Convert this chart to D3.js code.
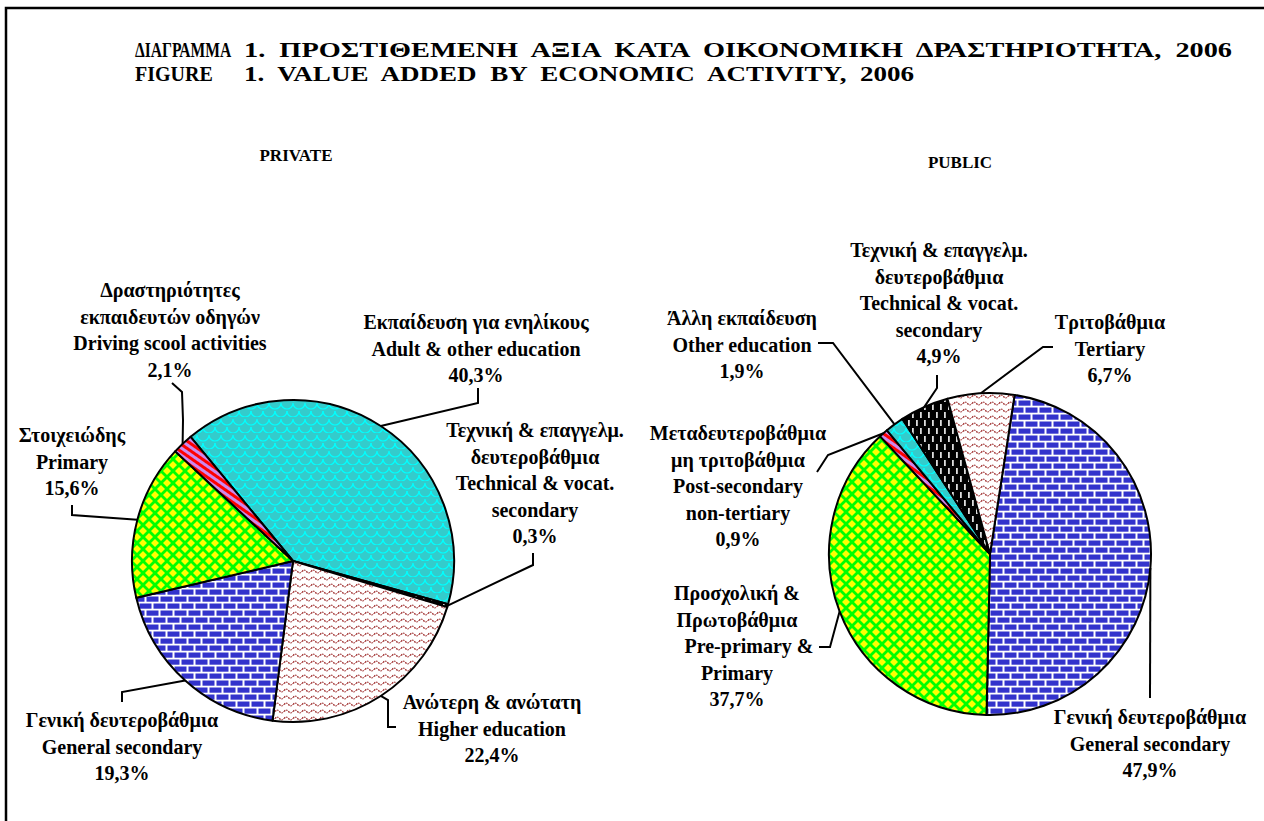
<!DOCTYPE html>
<html>
<head>
<meta charset="utf-8">
<script src="https://cdn.jsdelivr.net/npm/d3@7/dist/d3.min.js"></script>
<style>
body { margin: 0; background: #fff; }
svg text { font-family: "Liberation Serif", "Times New Roman", serif; font-weight: bold; fill: #000; }
</style>
</head>
<body>
<svg id="chart" width="1264" height="821"></svg>
<script>
/*************** dados ***************/
var privateLabels = [
    ['Εκπαίδευση για ενηλίκους', 'Adult & other education'],
    ['Τεχνική & επαγγελμ.', 'δευτεροβάθμια', 'Technical & vocat.', 'secondary'],
    ['Ανώτερη & ανώτατη', 'Higher education'],
    ['Γενική δευτεροβάθμια', 'General secondary'],
    ['Στοιχειώδης', 'Primary'],
    ['Δραστηριότητες', 'εκπαιδευτών οδηγών', 'Driving scool activities']
];
var privateValues = [40.3, 0.3, 22.4, 19.3, 15.6, 2.1];

var publicLabels = [
    ['Γενική δευτεροβάθμια', 'General secondary'],
    ['Προσχολική &', 'Πρωτοβάθμια', 'Pre-primary &', 'Primary'],
    ['Μεταδευτεροβάθμια', 'μη τριτοβάθμια', 'Post-secondary', 'non-tertiary'],
    ['Άλλη εκπαίδευση', 'Other education'],
    ['Τεχνική & επαγγελμ.', 'δευτεροβάθμια', 'Technical & vocat.', 'secondary'],
    ['Τριτοβάθμια', 'Tertiary']
];
var publicValues = [47.9, 37.7, 0.9, 1.9, 4.9, 6.7];

var titleLines = [
    ['ΔΙΑΓΡΑΜΜΑ', '1.  ΠΡΟΣΤΙΘΕΜΕΝΗ  ΑΞΙΑ  ΚΑΤΑ  ΟΙΚΟΝΟΜΙΚΗ  ΔΡΑΣΤΗΡΙΟΤΗΤΑ,  2006'],
    ['FIGURE', '1.  VALUE  ADDED  BY  ECONOMIC  ACTIVITY,  2006']
];
var pieTitles = ['PRIVATE', 'PUBLIC'];

/*************** estilo / layout ***************/
var privateFills = ['scales', 'dashes', 'waves', 'bricks', 'diamonds', 'stripes'];
var publicFills = ['bricks', 'diamonds', 'stripes', 'scales', 'dashes', 'waves'];

var lineH = 26.6;   // distância entre linhas dos rótulos

var privateLayout = {
    cx: 293, cy: 561, r: 161, start: -39.5,
    labels: [
        { x: 476, y: 322, leader: [[478, 388], [478, 403]] },
        { x: 535, y: 430, leader: [[533, 553], [533, 565]] },
        { x: 492, y: 702, leader: [[396, 727], [388, 727], [388, 700]] },
        { x: 122, y: 720, leader: [[122, 702], [122, 692]] },
        { x: 72,  y: 435, leader: [[72, 505], [72, 515]] },
        { x: 170, y: 290, leader: [[172, 383], [182, 392], [183, 420]] }
    ]
};

var publicLayout = {
    cx: 990, cy: 554, r: 161, start: 8.8,
    labels: [
        { x: 1150, y: 717, leader: [[1150, 698]] },
        { x: 737, y: 593, shift: { 2: 12 }, leader: [[819, 647], [830, 647]] },
        { x: 738, y: 433, leader: [[817, 472], [828, 455]] },
        { x: 742, y: 318, leader: [[818, 343], [833, 343]] },
        { x: 939, y: 250, leader: [[937, 375], [937, 388]] },
        { x: 1110, y: 322, leader: [[1053, 347], [1043, 347]] }
    ]
};

var fmt = function (v) { return d3.format('.1f')(v).replace('.', ',') + '%'; };

var svg = d3.select('#chart');

/*************** padrões (hachuras) ***************/
var defs = svg.append('defs');

function pattern(id, w, h, bg, transform) {
    var p = defs.append('pattern').attr('id', id)
        .attr('patternUnits', 'userSpaceOnUse')
        .attr('width', w).attr('height', h);
    if (transform) p.attr('patternTransform', transform);
    p.append('rect').attr('width', w).attr('height', h).attr('fill', bg);
    return p;
}

// tijolos azuis
var pb = pattern('bricks', 14, 14, '#ffffff');
[[0.5, 0.5], [7.5, 7.5], [-6.5, 7.5]].forEach(function (b) {
    pb.append('rect').attr('x', b[0]).attr('y', b[1]).attr('width', 12).attr('height', 5.2).attr('fill', '#3333cc');
});

// losangos amarelos sobre verde
var pd = pattern('diamonds', 12, 12, '#00ff00');
[[0, 0], [12, 0], [0, 12], [12, 12], [6, 6]].forEach(function (c) {
    var s = 4.0;
    pd.append('path')
        .attr('d', 'M' + (c[0] - s) + ',' + c[1] + 'L' + c[0] + ',' + (c[1] - s) + 'L' + (c[0] + s) + ',' + c[1] + 'L' + c[0] + ',' + (c[1] + s) + 'Z')
        .attr('fill', '#ffff00');
});

// ondas vermelhas
var pw = pattern('waves', 9, 7, '#ffffff');
pw.append('path').attr('d', 'M0,3.5 Q2.25,0.8 4.5,3.5 T9,3.5')
    .attr('fill', 'none').attr('stroke', '#a03030').attr('stroke-width', 1.2)
    .attr('stroke-dasharray', '1.6,0.9');

// escamas ciano
var ps = pattern('scales', 12, 16, '#33cccc');
['M0,2 A6,6 0 0,0 12,2', 'M-6,10 A6,6 0 0,0 6,10', 'M6,10 A6,6 0 0,0 18,10'].forEach(function (d) {
    ps.append('path').attr('d', d).attr('fill', 'none').attr('stroke', '#00ffff').attr('stroke-width', 1.2);
});

// listras vermelho / lilás
var pst = pattern('stripes', 6, 6, '#ff0000', 'rotate(35)');
pst.append('rect').attr('width', 6).attr('height', 3).attr('fill', '#cc88ee');

// traços brancos sobre preto
var pda = pattern('dashes', 8, 16, '#000000');
[[2, 2], [6, 10]].forEach(function (c) {
    pda.append('rect').attr('x', c[0]).attr('y', c[1]).attr('width', 1.8).attr('height', 6).attr('fill', '#dddddd');
});

/*************** moldura e títulos ***************/
svg.append('rect')
    .attr('x', 6).attr('y', 8).attr('width', 1300).attr('height', 850)
    .attr('fill', 'none').attr('stroke', '#000').attr('stroke-width', 2.5);

var gt = svg.append('g').attr('id', 'gtitulo').style('font-size', '20px');
var titleY = [57, 81];
var titleScale = [0.78, 1];                     // compressão horizontal da primeira palavra
var titleSpan = [[244, 1232], [244, 914]];      // início e fim da segunda parte
titleLines.forEach(function (ln, i) {
    gt.append('text').text(ln[0])
        .attr('transform', 'translate(135,' + titleY[i] + ') scale(' + titleScale[i] + ',1)');
    gt.append('text').text(ln[1]).attr('x', titleSpan[i][0]).attr('y', titleY[i])
        .style('white-space', 'pre')
        .attr('textLength', titleSpan[i][1] - titleSpan[i][0]).attr('lengthAdjust', 'spacingAndGlyphs');
});

svg.append('text').text(pieTitles[0]).attr('x', 296).attr('y', 161)
    .attr('text-anchor', 'middle').style('font-size', '17px');
svg.append('text').text(pieTitles[1]).attr('x', 960).attr('y', 168)
    .attr('text-anchor', 'middle').style('font-size', '17px');

/*************** pizzas ***************/
function desenhaPizza(id, values, labels, fills, lay) {
    var a0 = lay.start * Math.PI / 180;
    var pie = d3.pie().sort(null).value(function (d) { return d; })
        .startAngle(a0).endAngle(a0 + 2 * Math.PI);
    var arcs = pie(values);
    var arc = d3.arc().innerRadius(0).outerRadius(lay.r);

    var g = svg.append('g').attr('id', id);

    var gp = g.append('g').attr('transform', 'translate(' + lay.cx + ',' + lay.cy + ')');
    gp.selectAll('path')
        .data(arcs)
        .enter()
        .append('path')
        .attr('d', arc)
        .attr('fill', function (d, i) { return 'url(#' + fills[i] + ')'; })
        .attr('stroke', '#000')
        .attr('stroke-width', 2)
        .attr('stroke-linejoin', 'round');

    // linhas de chamada
    var line = d3.line();
    g.append('g').selectAll('path')
        .data(arcs)
        .enter()
        .append('path')
        .attr('d', function (d, i) {
            var m = (d.startAngle + d.endAngle) / 2;
            var edge = [lay.cx + lay.r * Math.sin(m), lay.cy - lay.r * Math.cos(m)];
            return line(lay.labels[i].leader.concat([edge]));
        })
        .attr('fill', 'none')
        .attr('stroke', '#000')
        .attr('stroke-width', 2);

    // rótulos
    var gl = g.append('g').style('font-size', '20px');
    arcs.forEach(function (d, i) {
        var L = lay.labels[i];
        var rows = labels[i].concat([fmt(values[i])]);
        var t = gl.append('text').attr('text-anchor', 'middle');
        rows.forEach(function (s, k) {
            t.append('tspan')
                .attr('x', L.x + ((L.shift && L.shift[k]) || 0))
                .attr('y', L.y + 7 + k * lineH)
                .text(s);
        });
    });
}

desenhaPizza('privada', privateValues, privateLabels, privateFills, privateLayout);
desenhaPizza('publica', publicValues, publicLabels, publicFills, publicLayout);
</script>
</body>
</html>
